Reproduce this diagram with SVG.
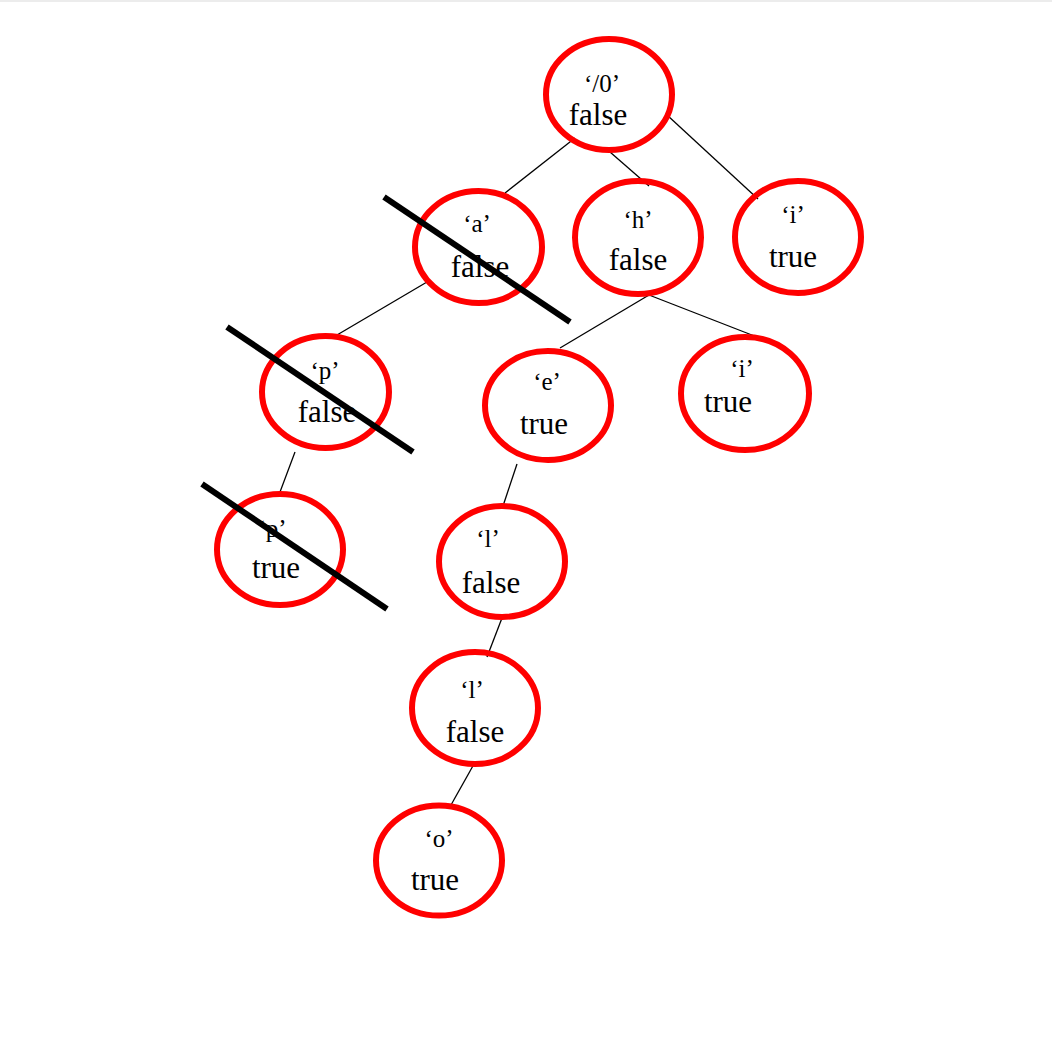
<svg xmlns="http://www.w3.org/2000/svg" width="1052" height="1038" viewBox="0 0 1052 1038">
<style>
.node ellipse{fill:none;stroke:#ff0000;stroke-width:6}
.lbl{font-family:"Liberation Serif","Times New Roman",serif;font-size:25px;fill:#000;text-anchor:middle}
.val{font-family:"Liberation Serif","Times New Roman",serif;font-size:31px;fill:#000;text-anchor:middle}
.edge{stroke:#000;stroke-width:1.3;fill:none}
.strike{stroke:#000;stroke-width:6;fill:none}
</style>
<rect x="0" y="0" width="1052" height="1038" fill="#ffffff"/>
<rect x="0" y="0" width="1052" height="2" fill="#ececec"/>
<g id="connectors">
<line class="edge" x1="575" y1="138" x2="505" y2="193"/>
<line class="edge" x1="610" y1="152" x2="649" y2="186"/>
<line class="edge" x1="667" y1="115" x2="758" y2="199"/>
<line class="edge" x1="427" y1="282" x2="337" y2="335"/>
<line class="edge" x1="649" y1="295" x2="560" y2="348"/>
<line class="edge" x1="649" y1="295" x2="757" y2="337"/>
<line class="edge" x1="295" y1="452" x2="280" y2="492"/>
<line class="edge" x1="517" y1="464" x2="503" y2="506"/>
<line class="edge" x1="502" y1="618" x2="487" y2="657"/>
<line class="edge" x1="474" y1="764" x2="451" y2="805"/>
</g>
<g id="node-root" class="node">
<ellipse cx="609" cy="94.5" rx="63" ry="55.5"/>
<text class="lbl" x="602" y="92">‘/0’</text>
<text class="val" x="598" y="125">false</text>
</g>
<g id="node-a" class="node">
<ellipse cx="478.5" cy="247" rx="63.5" ry="56"/>
<text class="lbl" x="477" y="232">‘a’</text>
<text class="val" x="480" y="277">false</text>
</g>
<g id="node-h" class="node">
<ellipse cx="638" cy="237.5" rx="63" ry="56.5"/>
<text class="lbl" x="638" y="228">‘h’</text>
<text class="val" x="638" y="270">false</text>
</g>
<g id="node-i1" class="node">
<ellipse cx="798" cy="237" rx="63" ry="56"/>
<text class="lbl" x="793" y="223">‘i’</text>
<text class="val" x="793" y="267">true</text>
</g>
<g id="node-p1" class="node">
<ellipse cx="325.5" cy="392" rx="63.5" ry="56"/>
<text class="lbl" x="325" y="379">‘p’</text>
<text class="val" x="327" y="422">false</text>
</g>
<g id="node-e" class="node">
<ellipse cx="548" cy="405.5" rx="63" ry="54.5"/>
<text class="lbl" x="547" y="390">‘e’</text>
<text class="val" x="544" y="434">true</text>
</g>
<g id="node-i2" class="node">
<ellipse cx="745" cy="393.5" rx="64" ry="56.5"/>
<text class="lbl" x="742" y="377">‘i’</text>
<text class="val" x="728" y="412">true</text>
</g>
<g id="node-p2" class="node">
<ellipse cx="280" cy="549.5" rx="63" ry="55.5"/>
<text class="lbl" x="272" y="537">‘p’</text>
<text class="val" x="276" y="578">true</text>
</g>
<g id="node-l1" class="node">
<ellipse cx="502" cy="561.5" rx="63" ry="55.5"/>
<text class="lbl" x="488" y="547">‘l’</text>
<text class="val" x="491" y="593">false</text>
</g>
<g id="node-l2" class="node">
<ellipse cx="475" cy="708" rx="63" ry="56"/>
<text class="lbl" x="472" y="698">‘l’</text>
<text class="val" x="475" y="742">false</text>
</g>
<g id="node-o" class="node">
<ellipse cx="439" cy="860.5" rx="63" ry="55"/>
<text class="lbl" x="439" y="847">‘o’</text>
<text class="val" x="435" y="890">true</text>
</g>
<g id="strikes">
<line class="strike" x1="384" y1="197" x2="570" y2="322"/>
<line class="strike" x1="227" y1="327" x2="413" y2="452"/>
<line class="strike" x1="202" y1="484" x2="387" y2="609"/>
</g>
</svg>
